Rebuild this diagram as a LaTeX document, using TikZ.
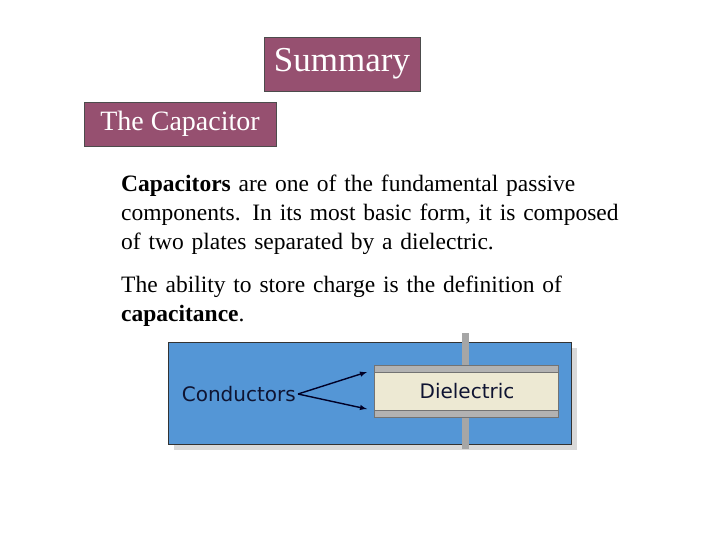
\documentclass[tikz,border=0pt]{standalone}
\usepackage{fontspec}
\setmainfont{Liberation Serif}
\newfontfamily\vsans{DejaVu Sans}
\begin{document}
\begin{tikzpicture}[x=1pt,y=-1pt,
  titlebox/.style={draw=black!70,fill={rgb,255:red,150;green,80;blue,112},text=white,inner sep=0pt},
  body/.style={anchor=north west,align=left,font=\fontsize{23.5}{29}\selectfont,inner sep=0pt},
  arr/.style={-latex,line width=1.4pt,black!85!blue}]
\useasboundingbox (0,0) rectangle (720,540);
\node[titlebox,minimum width=156,minimum height=54,font=\fontsize{35}{38}\selectfont] (sum) at (342,64) {Summary};
\node[titlebox,minimum width=192,minimum height=44,font=\fontsize{28}{30}\selectfont] (cap) at (180,124) {The Capacitor};
\node[body,text width=500] (p1) at (121,175) {\textbf{Capacitors} are one of the fundamental passive\\ components. In its most basic form, it is composed\\ of two plates separated by a dielectric.};
\node[body,text width=500] (p2) at (121,276) {The ability to store charge is the definition of\\ \textbf{capacitance}.};
% image
\fill[black!15] (174,348) rectangle (577,450);
\draw[black!80,fill={rgb,255:red,84;green,150;blue,214}] (168,342) rectangle (571,444);
\fill[black!35] (462,333) rectangle (469,449);
\draw[black!55,fill={rgb,255:red,237;green,233;blue,211}] (374,372) rectangle (558,410);
\draw[black!55,fill=black!30] (374,365) rectangle (558,372);
\draw[black!55,fill=black!30] (374,410) rectangle (558,417);
\node[font=\vsans\fontsize{20}{22}\selectfont,text={rgb,255:red,15;green,20;blue,50}] (die) at (467,391) {Dielectric};
\node[font=\vsans\fontsize{20}{22}\selectfont,text={rgb,255:red,15;green,20;blue,50},anchor=east,inner sep=2pt] (cond) at (298,394) {Conductors};
\coordinate (t1) at (367,372);
\coordinate (t2) at (367,409);
\draw[arr] (cond.east) -- (t1);
\draw[arr] (cond.east) -- (t2);
\end{tikzpicture}
\end{document}
